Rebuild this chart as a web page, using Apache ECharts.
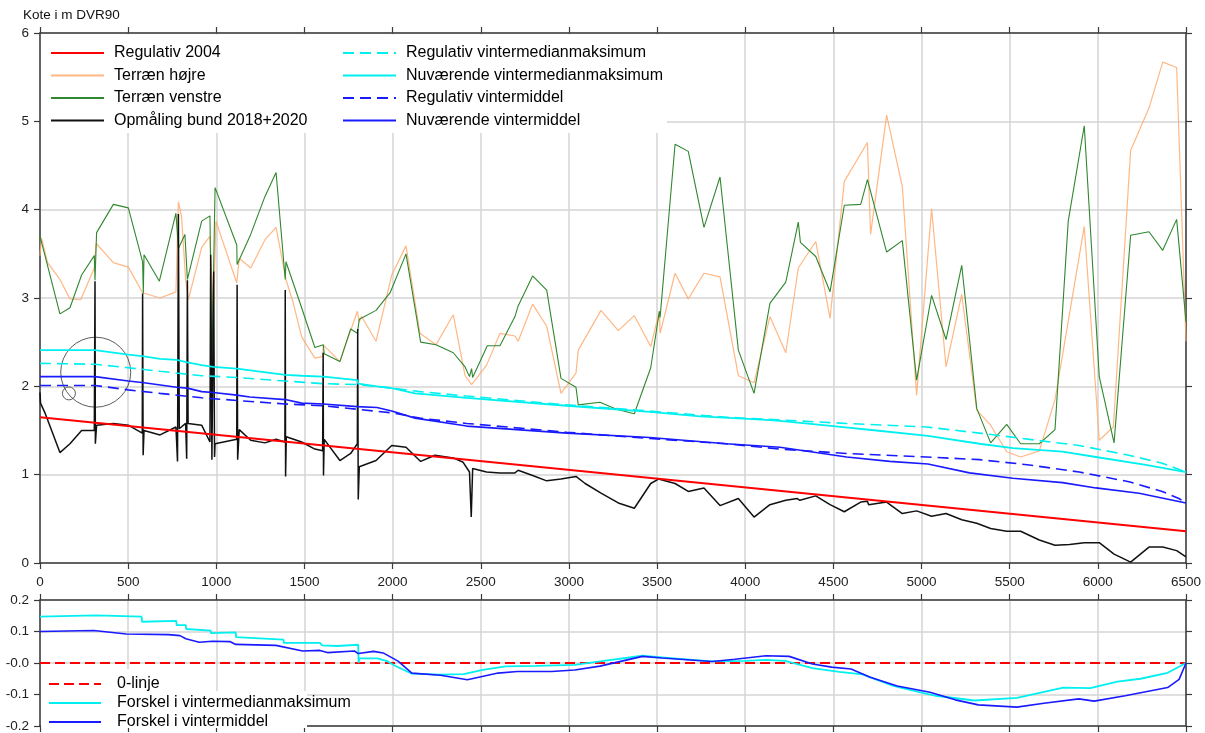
<!DOCTYPE html>
<html>
<head>
<meta charset="utf-8">
<script src="https://cdn.jsdelivr.net/npm/echarts@6/dist/echarts.min.js"></script>
<style>
html,body{margin:0;padding:0;background:#fff;}
#c{width:1205px;height:733px;}
</style>
</head>
<body>
<div id="c"></div>
<script>
// ---------- DATA ----------
const xTicks = [0,500,1000,1500,2000,2500,3000,3500,4000,4500,5000,5500,6000,6500];
const yTicksTop = [0,1,2,3,4,5,6];
const yTickLabelsBottom = ['-0.2','-0.1','-0.0','0.1','0.2'];
const yTicksBottom = [-0.2,-0.1,0,0.1,0.2];

const regulativ2004 = [[0,1.65],[6500,0.36]];

const terraenHoejre = [[0,3.48],[8,3.68],[43,3.40],[113,3.21],[170,2.99],[231,2.98],[308,3.34],[318,3.62],[416,3.40],[501,3.35],[582,3.06],[681,3.00],[771,3.07],[785,4.09],[803,3.92],[826,3.21],[841,2.98],[917,3.57],[964,3.70],[983,2.75],[998,3.87],[1116,3.17],[1130,3.45],[1195,3.34],[1276,3.66],[1339,3.80],[1395,3.21],[1437,2.94],[1484,2.56],[1559,2.32],[1603,2.34],[1607,2.47],[1701,2.28],[1800,2.85],[1811,2.73],[1824,2.79],[1906,2.51],[1995,3.26],[2076,3.59],[2155,2.60],[2246,2.47],[2344,2.81],[2411,2.12],[2448,2.02],[2533,2.24],[2609,2.60],[2694,2.57],[2712,2.51],[2794,2.93],[2874,2.68],[2955,1.92],[3040,2.15],[3053,2.41],[3182,2.86],[3280,2.63],[3371,2.80],[3464,2.45],[3513,2.85],[3517,2.60],[3602,3.28],[3677,2.99],[3766,3.28],[3857,3.24],[3961,2.12],[4050,2.04],[4140,2.79],[4230,2.38],[4301,3.34],[4400,3.64],[4481,2.77],[4562,4.32],[4693,4.76],[4711,3.72],[4802,5.07],[4891,4.26],[4972,1.90],[5057,4.01],[5139,2.22],[5228,3.04],[5313,1.73],[5392,1.56],[5483,1.26],[5562,1.20],[5668,1.27],[5757,1.85],[5923,3.81],[6008,1.39],[6088,1.54],[6186,4.67],[6290,5.15],[6368,5.67],[6447,5.61],[6500,2.51]];

const terraenVenstre = [[0,3.70],[113,2.82],[170,2.89],[236,3.26],[308,3.48],[312,3.20],[321,3.74],[416,4.06],[501,4.02],[582,3.41],[586,3.05],[590,3.49],[677,3.19],[771,3.96],[785,3.56],[822,3.72],[836,3.21],[917,3.87],[964,3.93],[975,2.22],[993,4.25],[1116,3.60],[1118,3.38],[1195,3.72],[1276,4.15],[1339,4.42],[1391,3.21],[1395,3.41],[1484,2.89],[1559,2.44],[1607,2.47],[1612,2.37],[1701,2.28],[1762,2.65],[1800,2.60],[1811,2.76],[1906,2.86],[1986,3.06],[2076,3.50],[2159,2.50],[2246,2.47],[2344,2.38],[2411,2.22],[2436,2.11],[2448,2.20],[2454,2.10],[2537,2.46],[2609,2.46],[2694,2.79],[2712,2.91],[2794,3.25],[2874,3.09],[2955,2.09],[3040,1.99],[3053,1.79],[3176,1.82],[3270,1.74],[3371,1.69],[3464,2.21],[3513,2.85],[3517,2.78],[3602,4.74],[3677,4.66],[3766,3.80],[3857,4.37],[3961,2.41],[4050,1.92],[4140,2.94],[4230,3.18],[4301,3.86],[4313,3.63],[4400,3.47],[4481,3.07],[4562,4.05],[4655,4.06],[4693,4.34],[4802,3.52],[4891,3.65],[4972,2.07],[5057,3.03],[5139,2.53],[5228,3.37],[5313,1.75],[5392,1.36],[5483,1.57],[5562,1.35],[5668,1.35],[5757,1.51],[5832,3.87],[5923,4.95],[6008,2.11],[6092,1.36],[6186,3.71],[6290,3.75],[6368,3.54],[6447,3.89],[6500,2.73]];

const opmaalingBund = [[0,1.93],[3,1.81],[28,1.70],[113,1.25],[170,1.35],[236,1.50],[308,1.50],[312,3.19],[314,1.35],[321,1.56],[416,1.58],[501,1.56],[580,1.47],[582,3.05],[585,1.22],[590,1.50],[681,1.45],[771,1.54],[780,1.15],[785,3.95],[790,1.52],[826,1.58],[832,1.18],[836,3.20],[840,1.58],[917,1.56],[964,1.37],[968,3.49],[975,1.17],[985,3.30],[990,1.20],[993,1.35],[1116,1.40],[1118,3.15],[1121,1.17],[1130,1.51],[1195,1.39],[1276,1.36],[1339,1.40],[1389,1.37],[1391,3.09],[1393,0.98],[1397,1.43],[1484,1.37],[1559,1.29],[1603,1.27],[1606,2.38],[1608,0.99],[1612,1.40],[1701,1.16],[1762,1.24],[1800,1.35],[1802,2.65],[1805,0.72],[1811,1.09],[1906,1.16],[1995,1.33],[2076,1.31],[2159,1.15],[2240,1.22],[2344,1.19],[2400,1.14],[2436,1.03],[2446,0.52],[2454,1.07],[2533,1.03],[2609,1.02],[2694,1.02],[2712,1.05],[2794,0.99],[2874,0.93],[2955,0.95],[3040,0.98],[3092,0.90],[3182,0.79],[3280,0.68],[3371,0.62],[3464,0.90],[3508,0.95],[3517,0.93],[3602,0.90],[3677,0.81],[3766,0.85],[3857,0.65],[3961,0.73],[4050,0.52],[4140,0.66],[4230,0.71],[4295,0.73],[4310,0.71],[4400,0.76],[4481,0.66],[4562,0.58],[4655,0.69],[4693,0.70],[4700,0.66],[4802,0.69],[4891,0.56],[4972,0.59],[5057,0.53],[5139,0.56],[5228,0.49],[5313,0.45],[5392,0.39],[5483,0.36],[5562,0.36],[5668,0.26],[5757,0.20],[5840,0.21],[5923,0.23],[6008,0.23],[6092,0.10],[6186,0.01],[6290,0.18],[6368,0.18],[6447,0.14],[6500,0.07]];

const regVintermedianmaks = [[0,2.26],[312,2.25],[501,2.21],[681,2.17],[917,2.12],[1116,2.10],[1391,2.06],[1607,2.03],[1800,2.02],[1995,1.98],[2155,1.94],[2420,1.89],[2987,1.79],[3459,1.72],[3893,1.65],[4197,1.62],[4575,1.58],[5027,1.54],[5329,1.47],[5611,1.40],[5894,1.33],[6176,1.22],[6365,1.13],[6500,1.03]];

const nuvVintermedianmaks = [[0,2.41],[312,2.41],[501,2.36],[590,2.34],[681,2.31],[775,2.30],[836,2.27],[917,2.24],[983,2.22],[1116,2.20],[1120,2.18],[1391,2.13],[1484,2.12],[1607,2.11],[1612,2.09],[1800,2.07],[1805,2.03],[1911,2.00],[1995,1.98],[2127,1.92],[2420,1.87],[2987,1.78],[3459,1.71],[3743,1.66],[4121,1.62],[4197,1.61],[4499,1.55],[4745,1.50],[5036,1.44],[5329,1.35],[5518,1.30],[5800,1.26],[5989,1.20],[6272,1.11],[6500,1.03]];

const regVintermiddel = [[0,2.01],[312,2.01],[501,1.96],[681,1.92],[917,1.87],[1116,1.84],[1391,1.80],[1607,1.78],[1800,1.74],[1995,1.70],[2155,1.64],[2420,1.58],[2987,1.48],[3459,1.41],[3893,1.35],[4197,1.29],[4575,1.24],[5027,1.20],[5329,1.17],[5611,1.11],[5894,1.03],[6176,0.92],[6365,0.81],[6460,0.73],[6500,0.68]];

const nuvVintermiddel = [[0,2.11],[312,2.11],[501,2.06],[590,2.04],[775,1.99],[836,1.98],[917,1.94],[983,1.93],[1116,1.90],[1190,1.88],[1391,1.85],[1484,1.81],[1607,1.80],[1800,1.77],[1911,1.76],[1995,1.72],[2127,1.64],[2420,1.55],[2987,1.47],[3459,1.42],[3893,1.35],[4197,1.31],[4575,1.20],[4820,1.15],[5036,1.12],[5272,1.02],[5518,0.96],[5800,0.91],[5989,0.85],[6234,0.79],[6500,0.68]];

const circleMarks = [[316,2.16],[164,1.92]];

const nulLinje = [[0,0],[6500,0]];

const forskelMedianmaks = [[0,0.147],[316,0.151],[577,0.147],[579,0.131],[773,0.134],[775,0.120],[827,0.120],[829,0.108],[968,0.103],[970,0.095],[1110,0.097],[1112,0.082],[1381,0.074],[1383,0.064],[1588,0.064],[1600,0.056],[1686,0.054],[1805,0.058],[1807,0.000],[1811,0.015],[1914,0.015],[1968,0.006],[2011,-0.008],[2109,-0.034],[2272,-0.037],[2403,-0.035],[2511,-0.022],[2641,-0.011],[2815,-0.009],[3033,-0.006],[3176,0.005],[3417,0.023],[3527,0.018],[3702,0.010],[3811,0.005],[3998,0.007],[4118,0.010],[4227,0.007],[4381,-0.016],[4534,-0.028],[4665,-0.036],[4840,-0.073],[4994,-0.093],[5081,-0.104],[5300,-0.119],[5541,-0.111],[5804,-0.078],[5957,-0.080],[6111,-0.059],[6242,-0.050],[6396,-0.031],[6500,0]];

const forskelMiddel = [[0,0.100],[305,0.103],[490,0.092],[729,0.090],[794,0.087],[827,0.077],[903,0.066],[977,0.069],[1077,0.068],[1110,0.059],[1338,0.056],[1490,0.038],[1588,0.040],[1630,0.033],[1783,0.038],[1805,0.030],[1892,0.037],[1946,0.032],[2031,0.006],[2109,-0.032],[2272,-0.039],[2424,-0.053],[2598,-0.032],[2707,-0.027],[2902,-0.027],[3033,-0.022],[3176,-0.010],[3417,0.021],[3527,0.016],[3811,0.005],[3942,0.012],[4118,0.023],[4249,0.021],[4381,-0.003],[4490,-0.013],[4600,-0.019],[4709,-0.045],[4862,-0.073],[5048,-0.093],[5191,-0.117],[5322,-0.133],[5541,-0.140],[5694,-0.128],[5892,-0.114],[5979,-0.121],[6155,-0.104],[6396,-0.078],[6461,-0.052],[6500,0]];

// ---------- CHART ----------
const FONT = '"Liberation Sans", Arial, sans-serif';
const AX = '#3a3a3a';
const GRIDC = '#d4d4d4';
const chart = echarts.init(document.getElementById('c'), null, {renderer:'canvas'});

function xAxisBase(gridIndex, position, showLabel, showSplit){
  return {
    type:'value', gridIndex, position, min:xTicks[0], max:xTicks[xTicks.length-1], interval:500,
    axisLine:{show:true, onZero:false, lineStyle:{color:AX, width:1.5}},
    axisTick:{show:true, length:6, lineStyle:{color:AX, width:1.2}},
    axisLabel:{show:showLabel, fontFamily:FONT, fontSize:13.5, color:'#222', margin:12,
      formatter: v => String(v)},
    splitLine:{show:showSplit, lineStyle:{color:GRIDC, width:1.5}}
  };
}
function yAxisBase(gridIndex, position, showLabel, showSplit, min, max, interval, fmt){
  return {
    type:'value', gridIndex, position, min, max, interval,
    axisLine:{show:true, onZero:false, lineStyle:{color:AX, width:1.5}},
    axisTick:{show:true, length:6, lineStyle:{color:AX, width:1.2}},
    axisLabel:{show:showLabel, fontFamily:FONT, fontSize:13.5, color:'#222', margin:11,
      formatter: fmt || (v => String(v))},
    splitLine:{show:showSplit, lineStyle:{color:GRIDC, width:1.5}}
  };
}
function line(name, data, color, width, type, xi, yi, extra){
  return Object.assign({
    name, type:'line', data, xAxisIndex:xi, yAxisIndex:yi, symbol:'none', silent:true,
    animation:false, lineStyle:{color, width, type:type||'solid'}, itemStyle:{color}
  }, extra||{});
}

const legendText = {fontFamily:FONT, fontSize:16, color:'#000', padding:[0,0,0,5]};
const legendTextBottom = {fontFamily:FONT, fontSize:16, color:'#000', padding:[0,0,0,11]};
const legendCommon = {orient:'vertical', padding:0, itemHeight:14, textStyle:legendText,
  selectedMode:false, itemStyle:{opacity:0}};

const option = {
  animation:false,
  backgroundColor:'#fff',
  title:{text:'Kote i m DVR90', left:23, top:8, padding:0,
    textStyle:{fontFamily:FONT, fontSize:13.5, fontWeight:'normal', color:'#111'}},
  grid:[
    {left:40, right:19, top:33, height:530},
    {left:40, right:19, top:600, height:129}
  ],
  xAxis:[
    xAxisBase(0,'bottom',true,true),
    xAxisBase(0,'top',false,false),
    xAxisBase(1,'top',false,true),
    xAxisBase(1,'bottom',false,false)
  ],
  yAxis:[
    yAxisBase(0,'left',true,true,yTicksTop[0],yTicksTop[yTicksTop.length-1],1),
    yAxisBase(0,'right',false,false,yTicksTop[0],yTicksTop[yTicksTop.length-1],1),
    yAxisBase(1,'left',true,true,yTicksBottom[0],yTicksBottom[yTicksBottom.length-1],0.1,
      v => { const i = yTicksBottom.findIndex(t => Math.abs(t - v) < 1e-6); return i >= 0 ? yTickLabelsBottom[i] : ''; }),
    yAxisBase(1,'right',false,false,yTicksBottom[0],yTicksBottom[yTicksBottom.length-1],0.1)
  ],
  graphic:[
    {type:'rect', z:3, shape:{x:41, y:34.5, width:626, height:98.5}, style:{fill:'#fff'}, silent:true},
    {type:'rect', z:3, shape:{x:41, y:669, width:131, height:22}, style:{fill:'#fff'}, silent:true},
    {type:'rect', z:3, shape:{x:41, y:691, width:266, height:37}, style:{fill:'#fff'}, silent:true}
  ],
  legend:[
    Object.assign({}, legendCommon, {
      data:['Regulativ 2004','Terræn højre','Terræn venstre','Opmåling bund 2018+2020'],
      left:50, top:45, itemWidth:53, itemGap:6.5}),
    Object.assign({}, legendCommon, {
      data:['Regulativ vintermedianmaksimum','Nuværende vintermedianmaksimum','Regulativ vintermiddel','Nuværende vintermiddel'],
      left:342, top:45, itemWidth:53, itemGap:6.5}),
    Object.assign({}, legendCommon, {
      data:['0-linje','Forskel i vintermedianmaksimum','Forskel i vintermiddel'],
      left:48, top:676, itemWidth:52, itemGap:3, textStyle:legendTextBottom})
  ],
  series:[
    line('Terræn højre', terraenHoejre, 'rgba(255,170,110,0.85)', 1.2, 'solid', 0, 0),
    line('Terræn venstre', terraenVenstre, '#2f872f', 1.1, 'solid', 0, 0),
    line('Opmåling bund 2018+2020', opmaalingBund, '#111', 1.5, 'solid', 0, 0),
    line('Regulativ 2004', regulativ2004, '#ff0000', 2, 'solid', 0, 0),
    line('Regulativ vintermedianmaksimum', regVintermedianmaks, '#00f0f0', 1.6, [11,6], 0, 0),
    line('Nuværende vintermedianmaksimum', nuvVintermedianmaks, '#00f0f0', 1.8, 'solid', 0, 0),
    line('Regulativ vintermiddel', regVintermiddel, '#1a1aff', 1.6, [11,6], 0, 0),
    line('Nuværende vintermiddel', nuvVintermiddel, '#1a1aff', 1.6, 'solid', 0, 0),
    {type:'scatter', xAxisIndex:0, yAxisIndex:0, silent:true, animation:false,
     data:circleMarks, symbol:'circle',
     symbolSize:(v, p) => p.dataIndex === 0 ? 70 : 13,
     itemStyle:{color:'rgba(0,0,0,0)', borderColor:'#333', borderWidth:1}},
    line('0-linje', nulLinje, '#ff0000', 2, [10,5], 2, 2),
    line('Forskel i vintermedianmaksimum', forskelMedianmaks, '#00f0f0', 1.8, 'solid', 2, 2),
    line('Forskel i vintermiddel', forskelMiddel, '#1a1aff', 1.6, 'solid', 2, 2)
  ]
};
chart.setOption(option);
</script>
</body>
</html>
